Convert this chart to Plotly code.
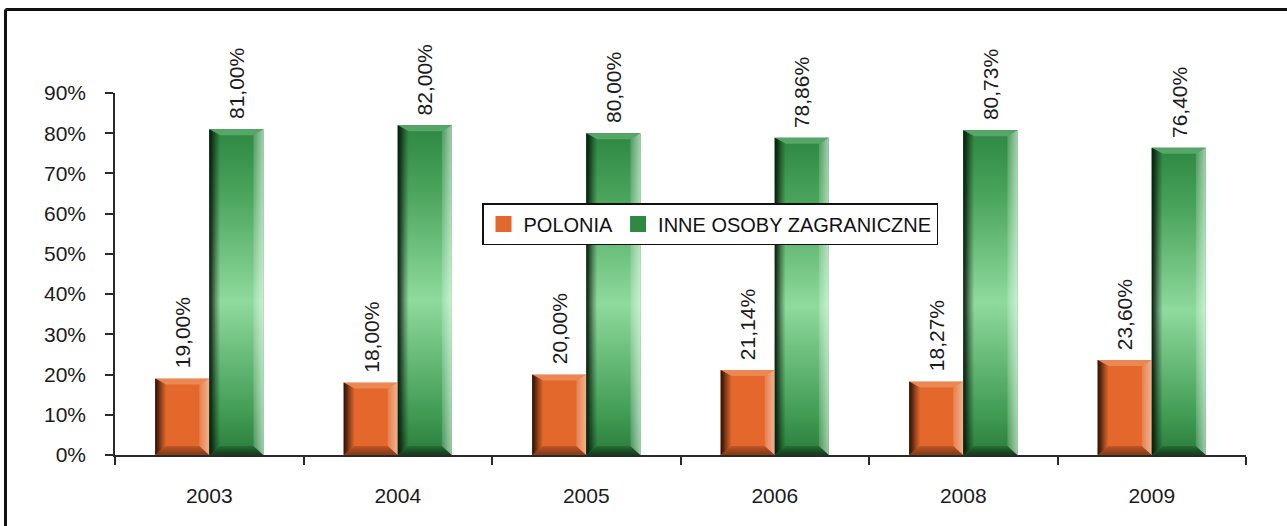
import plotly.graph_objects as go

# ---- data -------------------------------------------------------------
years = ["2003", "2004", "2005", "2006", "2008", "2009"]
polonia = [19.00, 18.00, 20.00, 21.14, 18.27, 23.60]
inne_osoby = [81.00, 82.00, 80.00, 78.86, 80.73, 76.40]
series_names = ["POLONIA", "INNE OSOBY ZAGRANICZNE"]
y_ticks = [0, 10, 20, 30, 40, 50, 60, 70, 80, 90]
y_tick_labels = [f"{t}%" for t in y_ticks]

# ---- geometry / style -------------------------------------------------
FONT = "Liberation Sans Narrow, Arial Narrow, Liberation Sans, Arial, sans-serif"
TXT = "#1c1c1c"
AX = "#2a2a2a"
FS = 21
W, H = 1287, 526
ML, MR, MT, MB = 115, 41, 93, 71
PW, PH = W - ML - MR, H - MT - MB
XMIN, XMAX = -0.5, len(years) - 0.5
YMAX = y_ticks[-1]
PX_X = PW / (XMAX - XMIN)      # pixels per category unit
PX_Y = PH / YMAX               # pixels per percent point
BAR_W = 0.287

styles = [
    dict(base="#e4672b", offset=-BAR_W, body=None,
         left="rgba(35,12,2,0.95)", right=("rgba(255,255,255,0.15)", "rgba(255,235,220,0.55)"),
         top="rgba(255,210,180,0.30)", bottom="rgba(60,20,5,0.55)"),
    dict(base="#2e8a42", offset=0.0,
         body=[[0.0, "#2a7c3b"], [0.12, "#3f9a52"], [0.47, "#8fda9d"], [0.8, "#4aa45c"], [1.0, "#2e8742"]],
         left="rgba(6,24,10,0.97)", right=("rgba(255,255,255,0.15)", "rgba(235,255,240,0.6)"),
         top="rgba(200,255,210,0.25)", bottom="rgba(5,30,10,0.65)"),
]
series_values = [polonia, inne_osoby]
xs = list(range(len(years)))

fig = go.Figure()

# base bars
for name, vals, st in zip(series_names, series_values, styles):
    fig.add_trace(go.Bar(
        x=xs, y=vals, width=BAR_W, offset=st["offset"], name=name,
        marker=dict(color=st["base"], line=dict(width=0)),
        showlegend=False, hoverinfo="skip",
    ))


def shade(xpts, ypts, color=None, grad=None):
    kw = dict(x=xpts + [xpts[0]], y=ypts + [ypts[0]], mode="none", fill="toself",
              showlegend=False, hoverinfo="skip")
    if grad is not None:
        kw["fillgradient"] = grad
        kw["fillcolor"] = "rgba(0,0,0,0)"
    else:
        kw["fillcolor"] = color
    fig.add_trace(go.Scatter(**kw))


# bevelled shading laid over each bar, sized from the bar's own value
EL, ER = 11 / PX_X, 10 / PX_X
ET, EB = 6 / PX_Y, 9 / PX_Y
for vals, st in zip(series_values, styles):
    for xi, v in zip(xs, vals):
        xl = xi + st["offset"]
        xr = xl + BAR_W
        if st["body"] is not None:
            shade([xl, xr, xr, xl], [0, 0, v, v],
                  grad=dict(type="vertical", colorscale=st["body"], start=0, stop=v))
        # top bevel
        shade([xl, xr, xr - ER, xl + EL], [v, v, v - ET, v - ET], color=st["top"])
        # bottom bevel
        shade([xl, xl + EL, xr - ER, xr], [0, EB, EB, 0],
              grad=dict(type="vertical", colorscale=[[0, st["bottom"]], [1, "rgba(0,0,0,0.15)"]],
                        start=0, stop=EB))
        # left dark edge
        shade([xl, xl, xl + EL, xl + EL], [0, v, v - ET, EB],
              grad=dict(type="horizontal",
                        colorscale=[[0, st["left"]], [0.55, "rgba(0,0,0,0.35)"], [1, "rgba(0,0,0,0)"]],
                        start=xl, stop=xl + EL))
        # right light edge
        shade([xr - ER, xr - ER, xr, xr], [EB, v - ET, v, 0],
              grad=dict(type="horizontal",
                        colorscale=[[0, st["right"][0]], [1, st["right"][1]]],
                        start=xr - ER, stop=xr))

# legend entries
for name, st in zip(series_names, styles):
    fig.add_trace(go.Scatter(
        x=[None], y=[None], mode="markers", name=name,
        marker=dict(symbol="square", size=16, color=st["base"]),
    ))

# value labels
for vals, st in zip(series_values, styles):
    for xi, v in zip(xs, vals):
        fig.add_annotation(
            x=xi + st["offset"] + BAR_W / 2, y=v,
            text=f"{v:.2f}".replace(".", ",") + "%",
            textangle=-90, showarrow=False, xanchor="center", yanchor="bottom",
            yshift=8, font=dict(family=FONT, size=FS, color=TXT),
        )

# outer frame (top and left edges)
fx0 = (5.5 - ML) / PW
fx1 = (W + 5 - ML) / PW
fy0 = (H - MB - 9.5) / PH
fy1 = -(MB + 5) / PH
fig.add_shape(type="line", xref="paper", yref="paper", x0=fx0, x1=fx1, y0=fy0, y1=fy0,
              line=dict(color="#111111", width=3))
fig.add_shape(type="line", xref="paper", yref="paper", x0=fx0, x1=fx0, y0=fy0, y1=fy1,
              line=dict(color="#111111", width=3))

fig.update_layout(
    width=W, height=H,
    margin=dict(l=ML, r=MR, t=MT, b=MB),
    paper_bgcolor="white", plot_bgcolor="white",
    barmode="overlay",
    font=dict(family=FONT, size=FS, color=TXT),
    legend=dict(
        orientation="h", x=(710 - ML) / PW, y=(H - MB - 224) / PH,
        xanchor="center", yanchor="middle",
        bgcolor="white", bordercolor="#111111", borderwidth=1.5,
        font=dict(family=FONT, size=20, color="#111111"),
        itemsizing="trace", itemwidth=30, tracegroupgap=0,
    ),
    xaxis=dict(
        range=[XMIN, XMAX], tickmode="array", tickvals=xs, ticktext=years,
        ticks="", showline=True, linecolor=AX, linewidth=1.5,
        minor=dict(tickmode="array", tickvals=[x - 0.5 for x in xs] + [XMAX],
                   ticks="outside", ticklen=8, tickwidth=1.5, tickcolor=AX, showgrid=False),
        showgrid=False, zeroline=False, ticklabelstandoff=21,
        tickfont=dict(family=FONT, size=FS, color=TXT), fixedrange=True,
    ),
    yaxis=dict(
        range=[0, YMAX], tickmode="array", tickvals=y_ticks, ticktext=y_tick_labels,
        ticks="outside", ticklen=8, tickwidth=1.5, tickcolor=AX,
        showline=True, linecolor=AX, linewidth=1.5,
        showgrid=False, zeroline=False, ticklabelstandoff=15,
        tickfont=dict(family=FONT, size=FS, color=TXT), fixedrange=True,
    ),
    showlegend=True,
)

fig.write_html("out.html")
